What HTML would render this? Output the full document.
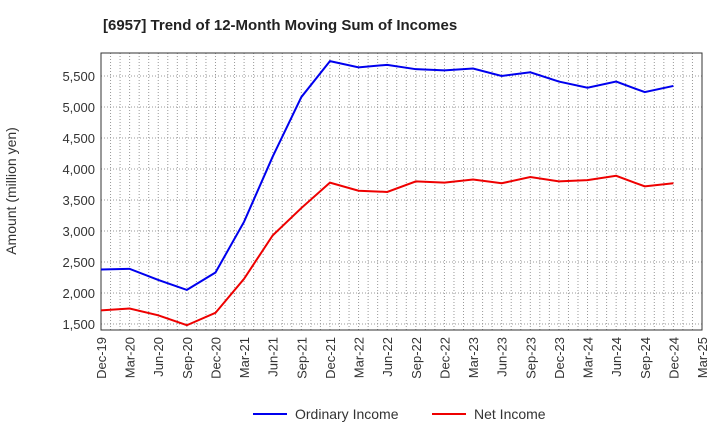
<!DOCTYPE html>
<html><head><meta charset="utf-8"><style>
body{margin:0;background:#fff;font-family:"Liberation Sans",sans-serif;}
svg text{font-family:"Liberation Sans",sans-serif;}
</style></head><body>
<svg id="c" width="720" height="440"></svg>
<script>
const categories=["Dec-19","Mar-20","Jun-20","Sep-20","Dec-20","Mar-21","Jun-21","Sep-21","Dec-21","Mar-22","Jun-22","Sep-22","Dec-22","Mar-23","Jun-23","Sep-23","Dec-23","Mar-24","Jun-24","Sep-24","Dec-24","Mar-25"];
const ordinaryIncome=[2380,2390,2210,2050,2330,3150,4200,5160,5740,5640,5680,5610,5590,5620,5500,5560,5410,5310,5410,5240,5340];
const netIncome=[1720,1750,1640,1480,1680,2230,2930,3370,3780,3650,3630,3800,3780,3830,3770,3870,3800,3820,3890,3720,3770];
const yTicks=[1500,2000,2500,3000,3500,4000,4500,5000,5500];
const NS="http://www.w3.org/2000/svg";
const svg=document.getElementById('c');
const L=101,R=702,T=53,B=330;
const y=v=>324-(v-1500)*31/500;
const x=i=>L+i*(R-L)/(categories.length-1);
function mk(t,a,p){const e=document.createElementNS(NS,t);for(const k in a)e.setAttribute(k,a[k]);(p||svg).appendChild(e);return e;}
let t=mk('text',{x:103,y:30,'text-anchor':'start','font-size':15,'font-weight':'bold',fill:'#222'});t.textContent="[6957]  Trend of 12-Month Moving Sum of Incomes";


const g=mk('g',{});


for(let m=1;m<(categories.length-1)*3;m++){const xx=L+m*(R-L)/((categories.length-1)*3);mk('line',{x1:xx,x2:xx,y1:T,y2:B,stroke:'#999','stroke-dasharray':'1,2','stroke-width':1},g);}
yTicks.forEach(v=>{mk('line',{x1:L,x2:R,y1:y(v),y2:y(v),stroke:'#999','stroke-dasharray':'1,2'},g);
const tx=mk('text',{x:95,y:y(v)+5,'text-anchor':'end','font-size':13,fill:'#333'});tx.textContent=v.toLocaleString('en-US');

});
categories.forEach((c,i)=>{const tx=mk('text',{transform:`translate(${x(i)+5},337) rotate(-90)`,'text-anchor':'end','font-size':13,fill:'#333'});tx.textContent=c;

});
const fr=mk('rect',{x:L,y:T,width:R-L,height:B-T,fill:'none',stroke:'#333'});


const yt=mk('text',{transform:'translate(19,191) rotate(-90)','text-anchor':'middle','font-size':14,fill:'#333'});yt.textContent="Amount (million yen)";
yt.setAttribute('transform','translate(16,191) rotate(-90)');


function line(d,col,name){const p=mk('polyline',{points:d.map((v,i)=>x(i)+','+y(v)).join(' '),fill:'none',stroke:col,'stroke-width':2});

}
line(ordinaryIncome,'#0000ee','ordinary-income-line');
line(netIncome,'#ee0000','net-income-line');
function leg(x0,col,label,name){const lg=mk('g',{});


mk('line',{x1:x0,x2:x0+34,y1:414,y2:414,stroke:col,'stroke-width':2},lg);
const tx=mk('text',{x:x0+42,y:419,'font-size':14,fill:'#333'},lg);tx.textContent=label;}
leg(253,'#0000ee','Ordinary Income','legend-ordinary-income');
leg(432,'#ee0000','Net Income','legend-net-income');
</script>
</body></html>
